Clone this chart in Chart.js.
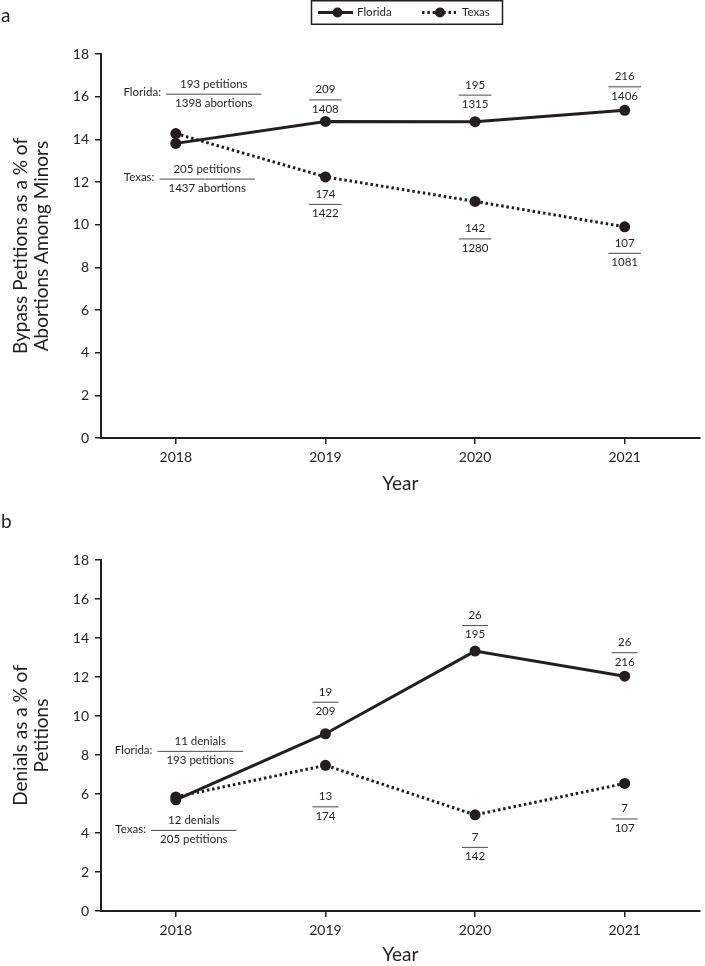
<!doctype html>
<html>
<head>
<meta charset="utf-8">
<title>Bypass petitions and denials</title>
<script src="https://cdn.jsdelivr.net/npm/chart.js"></script>
<style>
	body { margin: 0; background: #fff; }
	canvas { position: absolute; left: 0; }
</style>
</head>
<body>
<canvas id="chartA" width="705" height="500" style="top:0;width:705px;height:500px"></canvas>
<canvas id="chartB" width="705" height="466" style="top:500px;width:705px;height:466px"></canvas>

<script>
// --- data ---
var years = ['2018', '2019', '2020', '2021'];

// panel a: petitions as % of abortions among minors
var petitionPctFlorida = [13.81, 14.84, 14.83, 15.36];
var petitionPctTexas = [14.27, 12.24, 11.09, 9.90];
var petitionsFlorida = [193, 209, 195, 216];
var abortionsFlorida = [1398, 1408, 1315, 1406];
var petitionsTexas = [205, 174, 142, 107];
var abortionsTexas = [1437, 1422, 1280, 1081];

// panel b: denials as % of petitions
var denialPctFlorida = [5.70, 9.09, 13.33, 12.04];
var denialPctTexas = [5.85, 7.47, 4.93, 6.54];
var denialsFlorida = [11, 19, 26, 26];
var denialsTexas = [12, 13, 7, 7];

var yMin = 0, yMax = 18, yStep = 2;

var ink = '#231f20';
var fam = 'Lato, "Open Sans", sans-serif';

function fractionPlugin(specs) {
	return {
		id: 'fractions',
		afterDatasetsDraw: function(chart) {
			var ctx = chart.ctx;
			ctx.save();
			ctx.font = '11.5px ' + fam;
			ctx.fillStyle = ink;
			ctx.strokeStyle = '#4a4a4a';
			ctx.lineWidth = 1;
			ctx.textBaseline = 'middle';
			specs.forEach(function(s) {
				var meta = chart.getDatasetMeta(s.ds);
				meta.data.forEach(function(pt, i) {
					var top = i === 0 ? s.top[i] + ' ' + s.units[0] : String(s.top[i]);
					var bot = i === 0 ? s.bottom[i] + ' ' + s.units[1] : String(s.bottom[i]);
					var w = Math.max(ctx.measureText(top).width, ctx.measureText(bot).width);
					var cx, ly, lw;
					if (i === 0) {
						cx = pt.x + s.first[0];
						ly = pt.y + s.first[1];
						lw = w + 18;
						ctx.textAlign = 'right';
						ctx.fillText(s.prefix, cx - lw / 2 - 5, ly - 1);
					} else {
						cx = pt.x;
						ly = pt.y + s.lineDy[i];
						lw = w + 6;
					}
					ctx.beginPath();
					ctx.moveTo(cx - lw / 2, ly + 0.5);
					ctx.lineTo(cx + lw / 2, ly + 0.5);
					ctx.stroke();
					ctx.textAlign = 'center';
					ctx.fillText(top, cx, ly - 9.7);
					ctx.fillText(bot, cx, ly + 9.6);
				});
			});
			ctx.restore();
		}
	};
}

function panelLetter(letter, y) {
	return {
		id: 'letter',
		afterDraw: function(chart) {
			var ctx = chart.ctx;
			ctx.save();
			ctx.font = '19px ' + fam;
			ctx.fillStyle = ink;
			ctx.textAlign = 'left';
			ctx.textBaseline = 'alphabetic';
			ctx.fillText(letter, 1, y);
			ctx.restore();
		}
	};
}

// legend box drawn at the top of panel a
var legendBox = {
	id: 'legendBox',
	afterDraw: function(chart) {
		var ctx = chart.ctx;
		ctx.save();
		ctx.strokeStyle = ink;
		ctx.lineWidth = 1.5;
		ctx.strokeRect(311.5, 0.75, 191, 23.5);
		var y = 12.5;
		// Florida
		ctx.lineWidth = 3;
		ctx.beginPath(); ctx.moveTo(318, y); ctx.lineTo(353, y); ctx.stroke();
		ctx.fillStyle = ink;
		ctx.beginPath(); ctx.arc(337.5, y, 5, 0, Math.PI * 2); ctx.fill();
		// Texas
		ctx.setLineDash([2.5, 2.8]);
		ctx.beginPath(); ctx.moveTo(422, y); ctx.lineTo(456, y); ctx.stroke();
		ctx.setLineDash([]);
		ctx.beginPath(); ctx.arc(440, y, 5, 0, Math.PI * 2); ctx.fill();
		ctx.font = '11.5px ' + fam;
		ctx.textBaseline = 'middle';
		ctx.textAlign = 'left';
		ctx.fillText('Florida', 357, y);
		ctx.fillText('Texas', 462, y);
		ctx.restore();
	}
};

function makeChart(id, cfg) {
	var ctx = document.getElementById(id).getContext('2d');
	return new Chart(ctx, {
		type: 'line',
		data: {
			labels: years,
			datasets: [{
				label: 'Florida',
				data: cfg.florida,
				borderColor: ink,
				backgroundColor: ink,
				borderWidth: 3,
				pointRadius: 5.5,
				pointBorderWidth: 0,
				pointBackgroundColor: ink,
				tension: 0
			}, {
				label: 'Texas',
				data: cfg.texas,
				borderColor: ink,
				backgroundColor: ink,
				borderWidth: 3,
				borderDash: [2.5, 2.8],
				pointRadius: 5.5,
				pointBorderWidth: 0,
				pointBackgroundColor: ink,
				tension: 0
			}]
		},
		options: {
			responsive: false,
			animation: false,
			devicePixelRatio: 1,
			layout: { padding: { top: cfg.padTop, left: 0, right: 0, bottom: 0 } },
			plugins: {
				legend: { display: false },
				tooltip: { enabled: false }
			},
			scales: {
				x: {
					type: 'category',
					offset: true,
					grid: { offset: false, drawOnChartArea: false, drawTicks: true, tickLength: 6, color: ink, lineWidth: 1.5 },
					border: { display: true, color: ink, width: 2 },
					ticks: { color: ink, font: { family: fam, size: 14 }, padding: 5, maxRotation: 0, autoSkip: false },
					title: {
						display: true,
						text: 'Year',
						color: ink,
						font: { family: fam, size: 19 },
						padding: { top: 0, bottom: cfg.yearPad }
					},
					afterFit: function(scale) { scale.height = cfg.xHeight; }
				},
				y: {
					min: yMin,
					max: yMax,
					ticks: { stepSize: yStep, color: ink, font: { family: fam, size: 14 }, padding: 6 },
					grid: { drawOnChartArea: false, drawTicks: true, tickLength: 6, color: ink, lineWidth: 1.5 },
					border: { display: true, color: ink, width: 2 },
					title: {
						display: true,
						text: cfg.yTitle,
						color: ink,
						font: { family: fam, size: 19, lineHeight: 1.08 },
						padding: { top: 11, bottom: 0 }
					},
					afterFit: function(scale) { scale.width = 101; }
				}
			}
		},
		plugins: cfg.plugins
	});
}

makeChart('chartA', {
	florida: petitionPctFlorida,
	texas: petitionPctTexas,
	padTop: 54,
	xHeight: 62,
	yearPad: 4.5,
	yTitle: ['Bypass Petitions as a % of', 'Abortions Among Minors'],
	plugins: [
		fractionPlugin([
			{ ds: 0, prefix: 'Florida:', top: petitionsFlorida, bottom: abortionsFlorida, units: ['petitions', 'abortions'], first: [38, -49.7], lineDy: [0, -22, -27, -24] },
			{ ds: 1, prefix: 'Texas:', top: petitionsTexas, bottom: abortionsTexas, units: ['petitions', 'abortions'], first: [31.4, 45], lineDy: [0, 27, 37, 26] }
		]),
		panelLetter('a', 21.7),
		legendBox
	]
});

makeChart('chartB', {
	florida: denialPctFlorida,
	texas: denialPctTexas,
	padTop: 60,
	xHeight: 55,
	yearPad: 0,
	yTitle: ['Denials as a % of', 'Petitions'],
	plugins: [
		fractionPlugin([
			{ ds: 0, prefix: 'Florida:', top: denialsFlorida, bottom: petitionsFlorida, units: ['denials', 'petitions'], first: [24.4, -49], lineDy: [0, -32, -26, -24] },
			{ ds: 1, prefix: 'Texas:', top: denialsTexas, bottom: petitionsTexas, units: ['denials', 'petitions'], first: [18, 33], lineDy: [0, 41, 32, 35] }
		]),
		panelLetter('b', 28.3)
	]
});
</script>
</body>
</html>
